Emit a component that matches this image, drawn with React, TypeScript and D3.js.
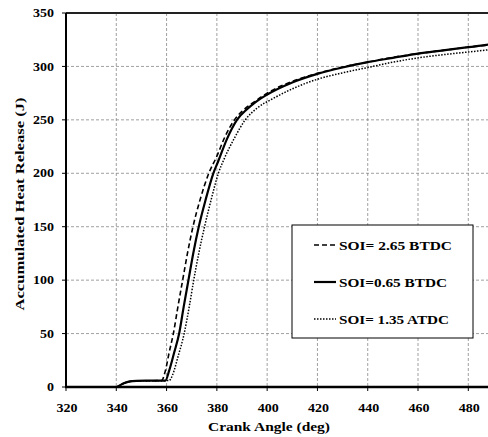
import React from "react";
import * as d3 from "d3";

const xTicks = [320, 340, 360, 380, 400, 420, 440, 460, 480];
const yTicks = [0, 50, 100, 150, 200, 250, 300, 350];

const seriesNames = ["SOI= 2.65 BTDC", "SOI=0.65 BTDC", "SOI= 1.35 ATDC"];

const dashedData: [number, number][] = [
  [320, 0], [340, 0], [341, 1], [343, 3.5], [345, 5], [348, 5.8], [358, 6], [359.5, 15], [361, 32],
  [362.7, 50], [364.5, 75], [366.4, 100], [368.3, 125], [370.5, 150], [373.3, 175], [376.8, 200],
  [380, 216], [383, 233], [387, 250], [391, 260], [395, 267], [400, 275], [410, 286], [420, 293.5],
  [430, 299.5], [440, 304], [450, 308.5], [460, 312], [470, 315], [480, 318], [490, 320.5], [500, 323],
];

const solidData: [number, number][] = [
  [320, 0], [340, 0], [341, 1], [343, 3.5], [345, 5], [348, 5.8], [359.5, 6], [361, 15], [363, 32],
  [365, 50], [366.8, 75], [368.7, 100], [370.6, 125], [372.8, 150], [375.5, 175], [378.6, 200],
  [380.5, 211], [384, 232], [388, 250], [392, 260], [395, 266], [399.5, 273], [410, 285], [420, 293],
  [430, 299], [440, 304], [450, 308], [460, 312], [470, 315], [480, 318], [490, 321], [500, 323.5],
];

const dottedData: [number, number][] = [
  [320, 0], [340, 0], [341, 1], [343, 3.5], [345, 5], [348, 5.8], [361, 6], [362.5, 12], [364.5, 28],
  [367, 50], [369, 75], [370.8, 100], [372.8, 125], [375.1, 150], [377.7, 175], [380.6, 200],
  [383, 214], [387, 233], [391.3, 250], [396, 261], [402, 269.5], [410, 279], [420, 288],
  [430, 294], [440, 299], [450, 304], [460, 308], [470, 311], [480, 313.5], [490, 316], [500, 318],
];

const W = 488;
const H = 437;
const left = 66;
const top = 13;
const bottom = 387;

const x = d3.scaleLinear().domain([320, 480]).range([left, 468.3]);
const y = d3.scaleLinear().domain([0, 350]).range([bottom, top]);
const right = x(500);

const line = d3
  .line<[number, number]>()
  .x((d) => x(d[0]))
  .y((d) => y(d[1]))
  .curve(d3.curveMonotoneX);

const styles = [
  { data: dashedData, width: 1.6, dash: "5,3" },
  { data: solidData, width: 2.2, dash: "" },
  { data: dottedData, width: 1.5, dash: "1.5,1.5" },
];

const legendWidths = [113, 108, 110];

const font = "'Liberation Serif', 'Times New Roman', serif";

export default function App() {
  const legendX = 292;
  const legendY = 225;
  const legendW = 181;
  const legendH = 113;
  const entryYs = [245, 282, 319];
  return (
    <svg
      width={W}
      height={H}
      style={{ position: "absolute", left: 0, top: 0, background: "#fff" }}
      fontFamily={font}
      fontWeight="bold"
    >
      <defs>
        <clipPath id="plotClip">
          <rect x={left} y={top} width={right - left} height={bottom - top} />
        </clipPath>
      </defs>
      <rect x={0} y={0} width={W} height={H} fill="#fff" />
      {xTicks.slice(1).map((t) => (
        <line key={"gx" + t} x1={x(t)} x2={x(t)} y1={top} y2={bottom} stroke="#888" strokeWidth={0.8} strokeDasharray="3,2" />
      ))}
      {yTicks.slice(1, -1).map((t) => (
        <line key={"gy" + t} x1={left} x2={right} y1={y(t)} y2={y(t)} stroke="#888" strokeWidth={0.8} strokeDasharray="3,2" />
      ))}
      <g clipPath="url(#plotClip)">
        {styles.map((s, i) => (
          <path
            key={i}
            d={line(s.data) || ""}
            fill="none"
            stroke="#000"
            strokeWidth={s.width}
            strokeDasharray={s.dash || undefined}
          />
        ))}
      </g>
      <line x1={left} x2={right} y1={top} y2={top} stroke="#222" strokeWidth={2} />
      <line x1={left} x2={left} y1={top} y2={bottom} stroke="#000" strokeWidth={2} />
      <line x1={left - 1} x2={right} y1={bottom} y2={bottom} stroke="#000" strokeWidth={2.5} />
      {yTicks.map((t) => (
        <g key={"yt" + t}>
          <line x1={left - 4} x2={left} y1={y(t)} y2={y(t)} stroke="#000" strokeWidth={1} />
          <text
            x={54}
            y={y(t)}
            dy="0.35em"
            textAnchor="end"
            fontSize={12}
            textLength={String(t).length * 7}
            lengthAdjust="spacingAndGlyphs"
          >
            {t}
          </text>
        </g>
      ))}
      {xTicks.map((t) => (
        <g key={"xt" + t}>
          <line x1={x(t)} x2={x(t)} y1={bottom} y2={bottom + 4} stroke="#000" strokeWidth={1} />
          <text
            x={x(t) + 1}
            y={412}
            textAnchor="middle"
            fontSize={12}
            textLength={21}
            lengthAdjust="spacingAndGlyphs"
          >
            {t}
          </text>
        </g>
      ))}
      <text x={269} y={431} textAnchor="middle" fontSize={13.5} textLength={122} lengthAdjust="spacingAndGlyphs">
        Crank Angle (deg)
      </text>
      <text
        transform={`translate(${24},${204}) rotate(-90)`}
        textAnchor="middle"
        fontSize={13.5}
        textLength={213}
        lengthAdjust="spacingAndGlyphs"
      >
        Accumulated Heat Release (J)
      </text>
      <rect x={legendX} y={legendY} width={legendW} height={legendH} fill="#fff" stroke="#000" strokeWidth={1} />
      {styles.map((s, i) => (
        <g key={"lg" + i}>
          <line
            x1={314}
            x2={336}
            y1={entryYs[i]}
            y2={entryYs[i]}
            stroke="#000"
            strokeWidth={s.width}
            strokeDasharray={s.dash || undefined}
          />
          <text
            x={339}
            y={entryYs[i]}
            dy="0.35em"
            fontSize={13}
            textLength={legendWidths[i]}
            lengthAdjust="spacingAndGlyphs"
          >
            {seriesNames[i]}
          </text>
        </g>
      ))}
    </svg>
  );
}
